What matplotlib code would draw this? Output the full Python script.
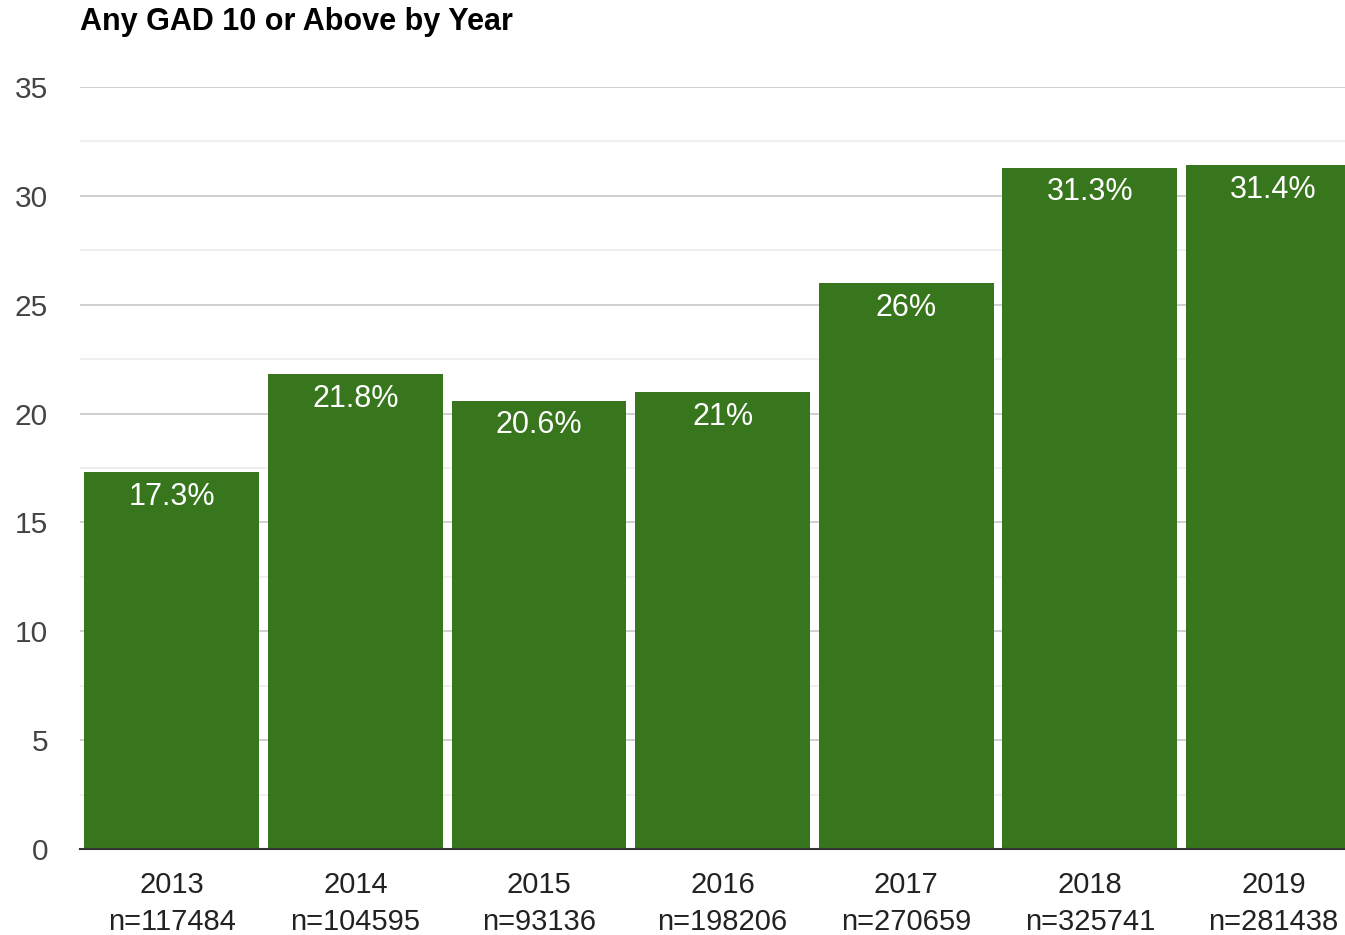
import numpy as np
import matplotlib.pyplot as plt
from matplotlib.ticker import MultipleLocator

plt.rcParams['font.family'] = ['Liberation Sans', 'DejaVu Sans']

# data
years = ['2013', '2014', '2015', '2016', '2017', '2018', '2019']
counts = ['117484', '104595', '93136', '198206', '270659', '325741', '281438']
values = [17.3, 21.8, 20.6, 21, 26, 31.3, 31.4]
value_labels = ['17.3%', '21.8%', '20.6%', '21%', '26%', '31.3%', '31.4%']

W, H, dpi = 1345, 935, 100
bar_color = '#38761d'

fig = plt.figure(figsize=(W/dpi, H/dpi), dpi=dpi)
ax = fig.add_axes([80/W, 86/H, 1 - 80/W, (849-87)/H])

x = np.arange(len(years))
bars = ax.bar(x, values, width=0.953, color=bar_color, zorder=3)

for rect, lab in zip(bars, value_labels):
    ax.annotate(lab, (rect.get_x() + rect.get_width()/2, rect.get_height()),
                xytext=(0, -7), textcoords='offset points', ha='center', va='top',
                color='white', fontsize=22, zorder=4)

ax.set_ylim(0, 35)
ax.set_xlim(-0.5, 6.39)
ax.yaxis.set_major_locator(MultipleLocator(5))
ax.yaxis.set_minor_locator(MultipleLocator(2.5))
ax.grid(which='major', axis='y', color='#cccccc', linewidth=1.3, zorder=0)
ax.grid(which='minor', axis='y', color='#ebebeb', linewidth=1.1, zorder=0)

ax.set_xticks(x)
ax.set_xticklabels([y + '\nn=' + n for y, n in zip(years, counts)], linespacing=1.4)
ax.tick_params(axis='x', length=0, pad=16, labelsize=21, labelcolor='#222222')
ax.tick_params(axis='y', which='both', length=0, pad=23, labelsize=21.5, labelcolor='#444444')

for s in ['top', 'right', 'left']:
    ax.spines[s].set_visible(False)
ax.spines['bottom'].set_color('#333333')
ax.spines['bottom'].set_linewidth(1.5)
ax.spines['bottom'].set_zorder(5)

fig.text(80/W, 1 - 22/H, 'Any GAD 10 or Above by Year', fontsize=22, fontweight='bold',
         ha='left', va='center', color='#000000')

plt.savefig('out.png', dpi=dpi)
